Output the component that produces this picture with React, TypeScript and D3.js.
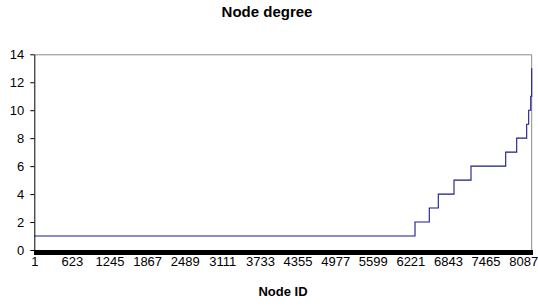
import { useEffect, useRef } from "react";
import * as d3 from "d3";

// degree plateaus, sorted ascending, and the node where each one starts
const degreeLevels = [1, 2, 3, 4, 5, 6, 7, 8, 9, 10, 11, 13];
const levelStartNode = [1, 6298, 6534, 6683, 6943, 7224, 7798, 7980, 8145, 8178, 8212, 8228];
const nodeCount = 8228;
const xTickLabels = [1, 623, 1245, 1867, 2489, 3111, 3733, 4355, 4977, 5599, 6221, 6843, 7465, 8087];
const yTicks = [0, 2, 4, 6, 8, 10, 12, 14];

const W = 538;
const H = 307;
const FONT = "'Liberation Sans', Arial, sans-serif";

export default function App() {
  const svgRef = useRef<SVGSVGElement>(null);

  useEffect(() => {
    document.body.style.margin = "0";
    const svg = d3.select(svgRef.current);
    svg.selectAll("*").remove();

    const margin = { top: 54.3, right: 6.3, bottom: 57, left: 34.3 };
    const innerW = W - margin.left - margin.right;
    const innerH = H - margin.top - margin.bottom;

    svg.append("rect").attr("width", W).attr("height", H).attr("fill", "#fff");

    const g = svg.append("g").attr("transform", `translate(${margin.left},${margin.top})`);

    const x = d3.scaleLinear().domain([1, nodeCount]).range([0, innerW]);
    const y = d3.scaleLinear().domain([0, 14]).range([innerH, 0]);

    // plot frame (top + right)
    g.append("path")
      .attr("d", `M0,0.5H${innerW}V${innerH}`)
      .attr("fill", "none")
      .attr("stroke", "#8c8c8c")
      .attr("stroke-width", 1);

    // line
    const pts = degreeLevels.map((d, i) => ({ node: levelStartNode[i], deg: d }));
    pts.push({ node: nodeCount, deg: degreeLevels[degreeLevels.length - 1] });
    const line = d3
      .line<{ node: number; deg: number }>()
      .x((d) => x(d.node))
      .y((d) => y(d.deg))
      .curve(d3.curveStepAfter);

    g.append("path")
      .datum(pts)
      .attr("fill", "none")
      .attr("stroke", "#1a1a8c")
      .attr("stroke-width", 1.1)
      .attr("d", line);

    // y axis
    const yAxis = g
      .append("g")
      .call(d3.axisLeft(y).tickValues(yTicks).tickSize(4).tickSizeOuter(0).tickPadding(6));
    yAxis.selectAll("text").attr("font-family", FONT).attr("font-size", 13).attr("fill", "#000");
    yAxis.selectAll("line,path").attr("stroke", "#000");

    // x axis: a tick for every node (forms the black band)
    const xTicks = g
      .append("g")
      .attr("transform", `translate(0,${innerH})`)
      .call(
        d3
          .axisBottom(x)
          .tickValues(d3.range(1, nodeCount + 1))
          .tickSize(5)
          .tickSizeOuter(0)
          .tickFormat(() => "")
      );
    xTicks.selectAll("line,path").attr("stroke", "#000");

    const xLabels = g
      .append("g")
      .attr("transform", `translate(0,${innerH})`)
      .call(
        d3
          .axisBottom(x)
          .tickValues(xTickLabels)
          .tickSize(0)
          .tickPadding(7)
          .tickFormat((d) => String(d))
      );
    xLabels.select(".domain").remove();
    xLabels.selectAll("text").attr("font-family", FONT).attr("font-size", 13).attr("fill", "#000");

    // title + axis title
    svg
      .append("text")
      .attr("x", 267)
      .attr("y", 17)
      .attr("text-anchor", "middle")
      .attr("font-family", FONT)
      .attr("font-weight", "bold")
      .attr("font-size", 15)
      .text("Node degree");

    svg
      .append("text")
      .attr("x", margin.left + innerW / 2)
      .attr("y", 296)
      .attr("text-anchor", "middle")
      .attr("font-family", FONT)
      .attr("font-weight", "bold")
      .attr("font-size", 13)
      .text("Node ID");
  }, []);

  return <svg ref={svgRef} width={W} height={H} style={{ display: "block" }} />;
}
